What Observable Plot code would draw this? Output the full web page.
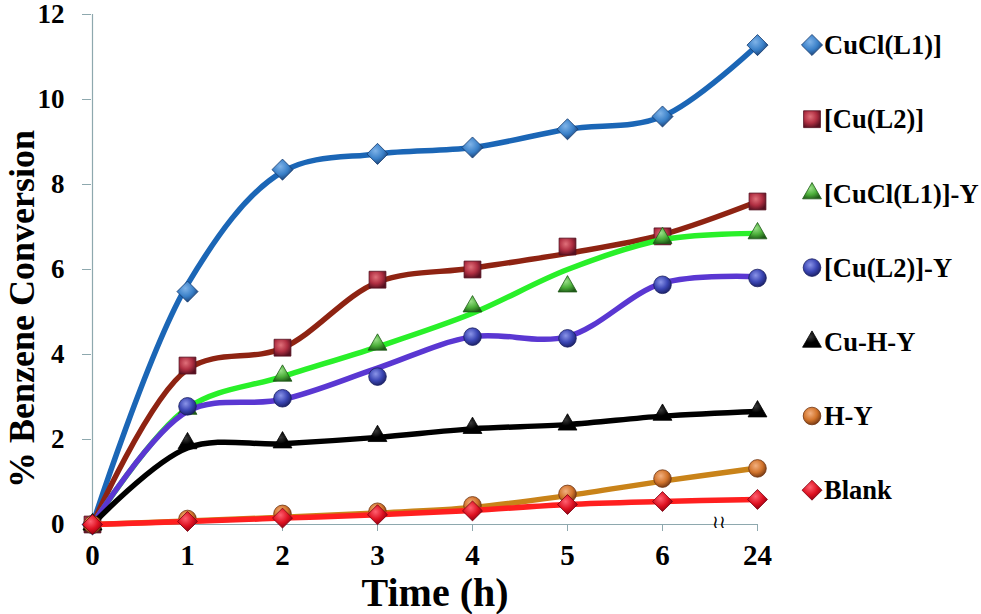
<!DOCTYPE html>
<html><head><meta charset="utf-8">
<script src="https://cdn.jsdelivr.net/npm/d3@7"></script>
<script src="https://cdn.jsdelivr.net/npm/@observablehq/plot@0.6"></script>
<style>
body{margin:0;background:#fff}
#chart{position:relative;width:981px;height:614px}
</style>
</head><body>
<svg width="0" height="0" style="position:absolute">
<defs id="grads"></defs>
</svg>
<div id="chart"></div>
<script>
// ---- data ----
const times = ["0","1","2","3","4","5","6","24"];
const yTicks = [0,2,4,6,8,10,12];
const seriesNames = ["CuCl(L1)]","[Cu(L2)]","[CuCl(L1)]-Y","[Cu(L2)]-Y","Cu-H-Y","H-Y","Blank"];
// marker values
const cuclL1   = [0, 5.48, 8.35, 8.72, 8.87, 9.3, 9.6, 11.28];
const cuL2     = [0, 3.74, 4.16, 5.76, 6.0, 6.54, 6.78, 7.6];
const cuclL1Y  = [0, 2.72, 3.5, 4.23, 5.13, 5.6, 6.74, 6.85];
const cuL2Y    = [0, 2.78, 2.97, 3.48, 4.42, 4.38, 5.64, 5.8];
const cuHY     = [0, 1.91, 1.93, 2.08, 2.27, 2.35, 2.58, 2.66];
const hY       = [0, 0.13, 0.25, 0.3, 0.45, 0.72, 1.08, 1.32];
const blank    = [0, 0.07, 0.15, 0.23, 0.32, 0.47, 0.54, 0.59];
// smoothed line values (read where the drawn curve passes each time)
const cuclL1Line  = [0, 5.65, 8.3, 8.72, 8.87, 9.3, 9.6, 11.28];
const cuL2Line    = [0, 3.65, 4.15, 5.7, 6.03, 6.38, 6.82, 7.6];
const cuclL1YLine = [0, 2.74, 3.48, 4.18, 4.97, 6.0, 6.7, 6.85];
const cuL2YLine   = [0, 2.66, 2.94, 3.68, 4.42, 4.42, 5.68, 5.83];
const cuHYLine    = [0, 1.8, 1.9, 2.05, 2.25, 2.35, 2.55, 2.66];
const hYLine      = [0, 0.08, 0.17, 0.27, 0.4, 0.68, 1.02, 1.33];
const blankLine   = [0, 0.07, 0.15, 0.23, 0.33, 0.47, 0.54, 0.59];
const allValues = [cuclL1, cuL2, cuclL1Y, cuL2Y, cuHY, hY, blank];
const allLines  = [cuclL1Line, cuL2Line, cuclL1YLine, cuL2YLine, cuHYLine, hYLine, blankLine];

// ---- styles ----
const lineColors = ["#1b66b6","#8e2312","#29f029","#5a37d2","#000000","#c98319","#ff1f1f"];
const markLight  = ["#7fb3e8","#e0707a","#9be08a","#8a94e8","#3a3a3a","#f2b080","#ff6070"];
const markMid    = ["#3a80c8","#b02f42","#4caf3a","#3b46b4","#000000","#d2742c","#dd1020"];
const markDark   = ["#173a6c","#561020","#1f5a18","#181d60","#000000","#6e3410","#7e0010"];
const symbols    = ["diamond2","square","triangle2","circle","triangle2","circle","diamond2"];
const sizes      = [9.5, 9.5, 9, 8.8, 9, 8.8, 9];
const font = "'Liberation Serif', 'Times New Roman', serif";

// gradients for markers
const defs = d3.select("#grads");
seriesNames.forEach((n,i) => {
  const g = defs.append("radialGradient").attr("id","g"+i)
    .attr("cx","40%").attr("cy","35%").attr("r","70%");
  g.append("stop").attr("offset","0%").attr("stop-color",markLight[i]);
  g.append("stop").attr("offset","55%").attr("stop-color",markMid[i]);
  g.append("stop").attr("offset","100%").attr("stop-color",markDark[i]);
});

const rows = [];
seriesNames.forEach((name, si) => {
  times.forEach((t, ti) => rows.push({series: name, si, time: t,
    value: allValues[si][ti], lineValue: allLines[si][ti]}));
});

const axisColor = "#8ea8ae";
const marks = [
  Plot.ruleY([0], {stroke: axisColor, strokeWidth: 1.2}),
  Plot.ruleX(["0"], {stroke: axisColor, strokeWidth: 1.2}),
  Plot.axisY({ticks: yTicks, tickSize: 9, stroke: axisColor, fontSize: 27, fontWeight: "bold",
              fontFamily: font, fill: "#000", tickPadding: 18, label: null, tickFormat: d => d}),
  Plot.axisX({tickSize: 7, stroke: axisColor, fontSize: 29, fontWeight: "bold",
              fontFamily: font, fill: "#000", tickPadding: 13, label: null}),
  Plot.text([0], {x: () => "24", y: () => 0, dx: -39, dy: -2, text: () => "≀≀",
                  fontSize: 18, fill: "#000", fontFamily: font})
];
seriesNames.forEach((name, si) => {
  const d = rows.filter(r => r.si === si);
  marks.push(Plot.line(d, {x: "time", y: "lineValue", stroke: lineColors[si], strokeWidth: 5.5,
                           curve: "catmull-rom"}));
  marks.push(Plot.dot(d, {x: "time", y: "value", symbol: () => symbols[si],
                          r: sizes[si],
                          fill: `url(#g${si})`, stroke: markDark[si], strokeWidth: 0.8}));
});

const chart = Plot.plot({
  width: 981, height: 614,
  marginLeft: 91, marginRight: 224, marginTop: 14, marginBottom: 90,
  style: {fontFamily: "Liberation Serif", background: "#fff", color: "#000", overflow: "visible"},
  x: {type: "point", domain: times, padding: 0, axis: null},
  y: {domain: [0, 12], axis: null},
  symbol: {type: "identity"},
  marks
});
document.getElementById("chart").appendChild(chart);

const svg = d3.select(chart);
// axis titles
svg.append("text").attr("transform", "translate(34,309) rotate(-90)")
  .attr("text-anchor","middle").attr("font-family",font).attr("font-weight","bold")
  .attr("font-size",36).attr("fill","#000").text("% Benzene Conversion");
svg.append("text").attr("x",435).attr("y",606)
  .attr("text-anchor","middle").attr("font-family",font).attr("font-weight","bold")
  .attr("font-size",40).attr("fill","#000").text("Time (h)");

// legend
const symMap = {diamond2: d3.symbolDiamond2, square: d3.symbolSquare, triangle2: d3.symbolTriangle2, circle: d3.symbolCircle};
const lg = svg.append("g");
seriesNames.forEach((name, i) => {
  const g = lg.append("g").attr("transform", `translate(812,${45 + i*74.2})`);
  const sz = sizes[i];
  g.append("path").attr("d", d3.symbol(symMap[symbols[i]], Math.PI*sz*sz)())
    .attr("fill", `url(#g${i})`).attr("stroke", markDark[i]).attr("stroke-width", 0.8);
  g.append("text").attr("x", 12).attr("y", 0).attr("dy","0.35em")
    .attr("text-anchor","start")
    .attr("font-family",font).attr("font-weight","bold").attr("font-size",26.5)
    .attr("fill","#000").text(name);
});
</script>
</body></html>
